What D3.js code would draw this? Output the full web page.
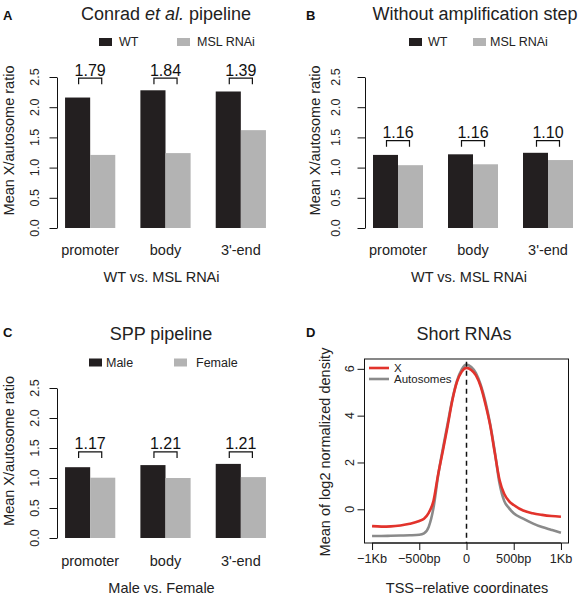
<!DOCTYPE html>
<html>
<head>
<meta charset="utf-8">
<script src="https://cdn.jsdelivr.net/npm/d3@7"></script>
<style>
  html, body { margin: 0; padding: 0; background: #fff; }
  svg { display: block; font-family: "Liberation Sans", Arial, Helvetica, sans-serif; }
</style>
</head>
<body>
<svg id="chart" width="581" height="600"></svg>
<script>
// ---------------- DATA ----------------
const barCategories = ["promoter", "body", "3'-end"];
const barYTicks = [0, 0.5, 1, 1.5, 2, 2.5];
const barYTickLabels = ["0.0", "0.5", "1.0", "1.5", "2.0", "2.5"];

const panelA_WT = [2.16, 2.28, 2.26];
const panelA_MSL = [1.21, 1.24, 1.62];
const panelA_ratios = ["1.79", "1.84", "1.39"];

const panelB_WT = [1.21, 1.22, 1.245];
const panelB_MSL = [1.04, 1.055, 1.125];
const panelB_ratios = ["1.16", "1.16", "1.10"];

const panelC_Male = [1.18, 1.215, 1.235];
const panelC_Female = [1.005, 1.0, 1.015];
const panelC_ratios = ["1.17", "1.21", "1.21"];

const tssPositions = [-1000, -900, -800, -700, -600, -500, -450, -400, -350, -300, -250, -200, -150, -100, -50, 0, 50, 100, 150, 200, 250, 300, 350, 400, 450, 500, 600, 700, 800, 900, 1000];
const shortX     = [-0.72, -0.74, -0.73, -0.69, -0.62, -0.50, -0.40, -0.15, 0.35, 1.50, 2.50, 3.55, 4.65, 5.45, 5.88, 6.04, 5.95, 5.72, 5.25, 4.50, 3.60, 2.40, 1.25, 0.65, 0.35, 0.18, -0.05, -0.17, -0.24, -0.29, -0.32];
const shortAuto  = [-1.14, -1.14, -1.13, -1.12, -1.11, -1.09, -1.03, -0.75, 0.05, 1.45, 2.60, 3.65, 4.70, 5.50, 5.98, 6.18, 6.08, 5.82, 5.32, 4.60, 3.65, 2.45, 1.10, 0.35, 0.05, -0.17, -0.40, -0.60, -0.76, -0.88, -1.00];
const dXTicks = [-1000, -500, 0, 500, 1000];
const dXTickLabels = ["\u22121Kb", "\u2212500bp", "0", "500bp", "1Kb"];
const dYTicks = [0, 2, 4, 6];
const dLegend = ["X", "Autosomes"];

// ---------------- STYLE ----------------
const DARK = "#231f20";
const LIGHT = "#b3b3b3";
const RED = "#e2332c";
const GREY = "#8a8a8a";

const svg = d3.select("#chart");

function panelLetter(x, y, t) {
  svg.append("text").attr("x", x).attr("y", y).attr("font-size", 13)
    .attr("font-weight", "bold").attr("fill", "#111").text(t);
}

function drawBarPanel(cfg) {
  const g = svg.append("g");
  const x = d3.scaleBand().domain(barCategories)
    .range(cfg.xRange).paddingInner(1 / 3).paddingOuter(1 / 6);
  const xs = d3.scaleBand().domain([0, 1]).range([0, x.bandwidth()]);
  const y = d3.scaleLinear().domain([0, 2.5]).range(cfg.yRange);
  const seriesVals = [cfg.s1, cfg.s2];
  const cols = [DARK, LIGHT];

  // bars
  seriesVals.forEach((vals, j) => {
    g.selectAll(null).data(vals).enter().append("rect")
      .attr("x", (d, i) => x(barCategories[i]) + xs(j))
      .attr("width", xs.bandwidth())
      .attr("y", d => y(d))
      .attr("height", d => y(0) - y(d))
      .attr("fill", cols[j]);
  });

  // axis
  const ax = g.append("g").attr("transform", `translate(${cfg.axisX},0)`)
    .call(d3.axisLeft(y).tickValues(barYTicks).tickSize(7.5).tickSizeOuter(0));
  ax.selectAll("text").remove();
  ax.selectAll("path, line").attr("stroke", "#111").attr("stroke-width", 1);
  g.selectAll(null).data(barYTicks).enter().append("text")
    .attr("transform", d => `translate(${cfg.axisX - cfg.tickLabOff},${y(d)}) rotate(-90)`)
    .attr("text-anchor", "middle").attr("dy", "0.35em")
    .attr("font-size", 12.5).attr("fill", "#222")
    .text((d, i) => barYTickLabels[i]);

  // y label
  const yMid = (cfg.yRange[0] + cfg.yRange[1]) / 2 - 12;
  g.append("text")
    .attr("transform", `translate(${cfg.yLabX},${yMid}) rotate(-90)`)
    .attr("text-anchor", "middle").attr("dy", "0.35em")
    .attr("font-size", 14.5).attr("fill", "#222").text("Mean X/autosome ratio");

  // brackets
  const maxAll = d3.max(cfg.s1.concat(cfg.s2));
  const yb = y(maxAll + 0.1), yt = y(maxAll + 0.2);
  barCategories.forEach((c, i) => {
    const x1 = x(c) + xs(0) + xs.bandwidth() / 2 + 1;
    const x2 = x(c) + xs(1) + xs.bandwidth() / 2 - 1;
    g.append("path")
      .attr("d", `M${x1},${yb}V${yt}H${x2}V${yb}`)
      .attr("fill", "none").attr("stroke", "#111").attr("stroke-width", 1.2);
    g.append("text").attr("x", (x1 + x2) / 2).attr("y", yt - 2.5)
      .attr("text-anchor", "middle").attr("font-size", 16).attr("fill", "#111")
      .text(cfg.ratios[i]);
  });

  // category labels
  g.selectAll(null).data(barCategories).enter().append("text")
    .attr("x", d => x(d) + x.bandwidth() / 2)
    .attr("y", cfg.catY)
    .attr("text-anchor", "middle").attr("font-size", 14.5).attr("fill", "#222")
    .text(d => d);
  g.append("text").attr("x", (cfg.xRange[0] + cfg.xRange[1]) / 2 - 4).attr("y", cfg.xLabY)
    .attr("text-anchor", "middle").attr("font-size", 14.5).attr("fill", "#222")
    .text(cfg.xLabel);

  // title
  const t = g.append("text").attr("x", cfg.titleX).attr("y", cfg.titleY)
    .attr("text-anchor", "middle").attr("font-size", 18).attr("fill", "#222");
  cfg.title.forEach(part => {
    t.append("tspan").attr("font-style", part.italic ? "italic" : "normal").text(part.t);
  });

  // legend
  cfg.legend.forEach((L, j) => {
    g.append("rect").attr("x", L.sx).attr("y", cfg.legY - 8).attr("width", 13).attr("height", 8)
      .attr("fill", cols[j]);
    g.append("text").attr("x", L.tx).attr("y", cfg.legY).attr("font-size", 12.5)
      .attr("fill", "#222").text(L.label);
  });
}

// Panel A
drawBarPanel({
  s1: panelA_WT, s2: panelA_MSL, ratios: panelA_ratios,
  xRange: [52.5, 278.5], yRange: [228, 77], axisX: 57, tickLabOff: 22, yLabX: 9,
  catY: 255, xLabY: 282, xLabel: "WT vs. MSL RNAi",
  title: [{ t: "Conrad " }, { t: "et al.", italic: true }, { t: " pipeline" }],
  titleX: 166, titleY: 19.5, legY: 46,
  legend: [{ sx: 99, tx: 119, label: "WT" }, { sx: 177, tx: 197, label: "MSL RNAi" }]
});
// Panel B
drawBarPanel({
  s1: panelB_WT, s2: panelB_MSL, ratios: panelB_ratios,
  xRange: [360.5, 585.5], yRange: [228, 77], axisX: 365, tickLabOff: 29, yLabX: 315,
  catY: 255, xLabY: 282, xLabel: "WT vs. MSL RNAi",
  title: [{ t: "Without amplification step" }],
  titleX: 475, titleY: 19.5, legY: 46,
  legend: [{ sx: 409, tx: 428, label: "WT" }, { sx: 473, tx: 490, label: "MSL RNAi" }]
});
// Panel C
drawBarPanel({
  s1: panelC_Male, s2: panelC_Female, ratios: panelC_ratios,
  xRange: [52.5, 278.5], yRange: [538, 388], axisX: 57, tickLabOff: 22, yLabX: 9,
  catY: 565.5, xLabY: 593, xLabel: "Male vs. Female",
  title: [{ t: "SPP pipeline" }],
  titleX: 161, titleY: 339.5, legY: 366.5,
  legend: [{ sx: 89, tx: 106, label: "Male" }, { sx: 174, tx: 196, label: "Female" }]
});

panelLetter(3, 20, "A");
panelLetter(306, 20, "B");
panelLetter(3, 337, "C");
panelLetter(306, 337, "D");

// Panel D
(function () {
  const g = svg.append("g");
  const x = d3.scaleLinear().domain([-1080, 1080]).range([364.5, 568.5]);
  const y = d3.scaleLinear().domain([-1.44, 6.42]).range([543, 359]);

  // curves
  const line = d3.line().x(d => x(d[0])).y(d => y(d[1])).curve(d3.curveMonotoneX);
  g.append("path").datum(tssPositions.map((p, i) => [p, shortAuto[i]]))
    .attr("d", line).attr("fill", "none").attr("stroke", GREY).attr("stroke-width", 2.6);
  g.append("path").datum(tssPositions.map((p, i) => [p, shortX[i]]))
    .attr("d", line).attr("fill", "none").attr("stroke", RED).attr("stroke-width", 2.6);

  // dashed TSS line
  g.append("line").attr("x1", x(0)).attr("x2", x(0)).attr("y1", y(6.3)).attr("y2", y(-1.44))
    .attr("stroke", "#111").attr("stroke-width", 1.5).attr("stroke-dasharray", "5,4");

  // box
  g.append("rect").attr("x", x(-1080)).attr("y", y(6.42))
    .attr("width", x(1080) - x(-1080)).attr("height", y(-1.44) - y(6.42))
    .attr("fill", "none").attr("stroke", "#111").attr("stroke-width", 1);

  // axes
  const ay = g.append("g").attr("transform", `translate(${x(-1080)},0)`)
    .call(d3.axisLeft(y).tickValues(dYTicks).tickSize(7).tickSizeOuter(0));
  ay.select(".domain").remove();
  ay.selectAll("text").remove();
  ay.selectAll("line").attr("stroke", "#111");
  g.selectAll(null).data(dYTicks).enter().append("text")
    .attr("transform", d => `translate(${x(-1080) - 15},${y(d)}) rotate(-90)`)
    .attr("text-anchor", "middle").attr("dy", "0.35em").attr("font-size", 12.5)
    .attr("fill", "#222").text(d => d);

  const ax = g.append("g").attr("transform", `translate(0,${y(-1.44)})`)
    .call(d3.axisBottom(x).tickValues(dXTicks).tickSize(7).tickSizeOuter(0));
  ax.select(".domain").remove();
  ax.selectAll("text").remove();
  ax.selectAll("line").attr("stroke", "#111");
  g.append("line").attr("x1", x(-1000)).attr("x2", x(1000))
    .attr("y1", y(-1.44)).attr("y2", y(-1.44)).attr("stroke", "#111");
  g.selectAll(null).data(dXTicks).enter().append("text")
    .attr("x", d => x(d)).attr("y", 563).attr("text-anchor", "middle")
    .attr("font-size", 12.7).attr("fill", "#222")
    .text((d, i) => dXTickLabels[i]);

  g.append("text").attr("x", 467).attr("y", 593).attr("text-anchor", "middle")
    .attr("font-size", 14.5).attr("fill", "#222").text("TSS\u2212relative coordinates");
  g.append("text").attr("transform", `translate(325,452) rotate(-90)`)
    .attr("text-anchor", "middle").attr("dy", "0.35em").attr("font-size", 14.5)
    .attr("fill", "#222").text("Mean of log2 normalized density");
  g.append("text").attr("x", 464).attr("y", 339.5).attr("text-anchor", "middle")
    .attr("font-size", 18).attr("fill", "#222").text("Short RNAs");

  // legend
  const lc = [RED, GREY];
  dLegend.forEach((lab, j) => {
    const yy = 368 + j * 11;
    g.append("line").attr("x1", 369).attr("x2", 389).attr("y1", yy).attr("y2", yy)
      .attr("stroke", lc[j]).attr("stroke-width", 2.6);
    g.append("text").attr("x", 394).attr("y", yy).attr("dy", "0.36em")
      .attr("font-size", 11.5).attr("fill", "#222").text(lab);
  });
})();
</script>
</body>
</html>
